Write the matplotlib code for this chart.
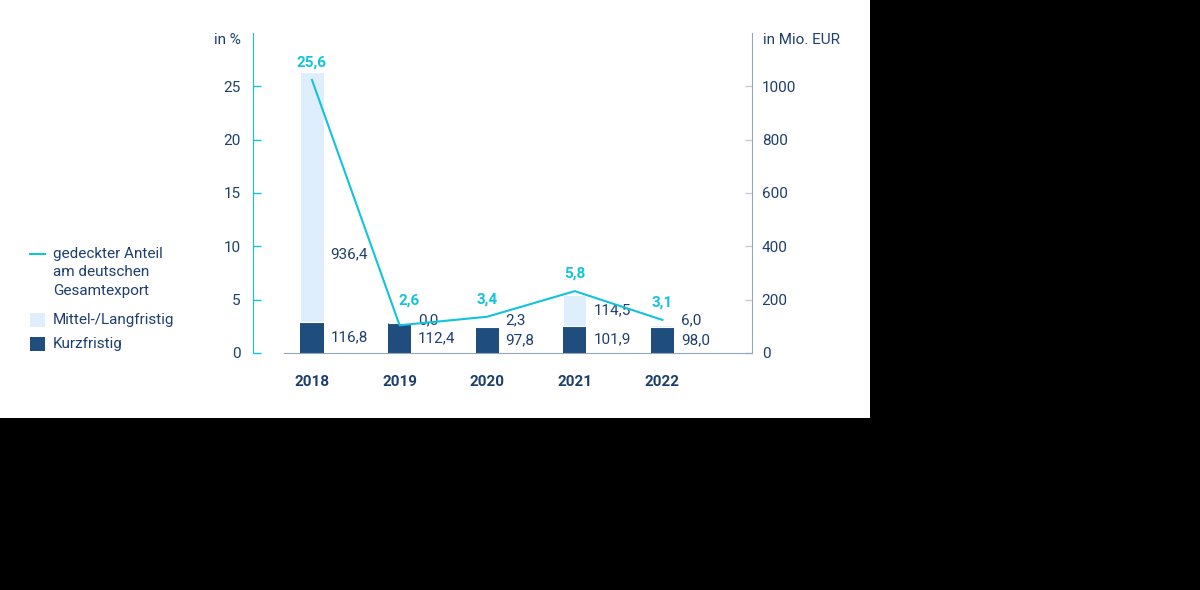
import numpy as np
import matplotlib.pyplot as plt
from matplotlib.lines import Line2D
from matplotlib.patches import Rectangle

plt.rcParams['font.family'] = ['Roboto', 'DejaVu Sans']

# data
years = ['2018', '2019', '2020', '2021', '2022']
kurz = [116.8, 112.4, 97.8, 101.9, 98.0]          # Mio. EUR
mittel = [936.4, 0.0, 2.3, 114.5, 6.0]            # Mio. EUR
anteil = [25.6, 2.6, 3.4, 5.8, 3.1]               # in %

navy = '#1f4e7e'
light = '#dfeefd'
cyan = '#12c3db'
text_c = '#1d3f6e'
grey_ax = '#93a6c0'
fs = 11

W, H = 1200, 590
fig = plt.figure(figsize=(12, 5.9), dpi=100, facecolor='black')
# white card like in the source
fig.add_artist(Rectangle((0, 1 - 418 / H), 870 / W, 418 / H, transform=fig.transFigure,
                         facecolor='white', edgecolor='none', zorder=-10))

ax = fig.add_axes([253 / W, 1 - 353 / H, (752 - 253) / W, 320 / H])
ax.set_facecolor('none')
ax2 = ax.twinx()  # Mio. EUR axis (bars)

x = np.arange(len(years))
bw = 0.263

ax2.bar(x, kurz, bw, color=navy, zorder=2)
ax2.bar(x, mittel, bw, bottom=kurz, color=light, edgecolor='white', linewidth=0.8, zorder=2)
ax.plot(x, anteil, color=cyan, lw=1.5, zorder=3)
ax.set_zorder(ax2.get_zorder() + 1)
ax.patch.set_visible(False)

ax.set_xlim(-0.6735, 5.023)
ax.set_ylim(0, 30)
ax2.set_ylim(0, 1200)

# percent labels
for i, v in enumerate(anteil):
    dx = 7 if i == 1 else 0
    dy = 13 if i == 1 else 7.5
    ax.annotate(f'{v:.1f}'.replace('.', ','), (x[i], v), xytext=(dx, dy),
                textcoords='offset points', ha='center', va='bottom',
                color=cyan, fontsize=fs, fontweight='bold')

# value labels right of bars
for i in range(len(years)):
    xr = x[i] + bw / 2
    ax2.annotate(f'{kurz[i]:.1f}'.replace('.', ','), (xr, kurz[i] / 2), xytext=(5, 0),
                 textcoords='offset points', ha='left', va='center', color=text_c, fontsize=fs)
    ym = kurz[i] + mittel[i] / 2
    if mittel[i] > 500:
        ym = kurz[i] + mittel[i] * 0.27
    ym = max(ym, 121)
    ax2.annotate(f'{mittel[i]:.1f}'.replace('.', ','), (xr, ym), xytext=(5, 0),
                 textcoords='offset points', ha='left', va='center', color=text_c, fontsize=fs)

# axes styling
ax.spines['top'].set_visible(False)
ax2.spines['top'].set_visible(False)
ax.spines['right'].set_visible(False)
ax.spines['bottom'].set_visible(False)
ax2.spines['left'].set_visible(False)
ax.spines['left'].set_color(cyan)
ax2.spines['right'].set_color(grey_ax)
ax2.spines['bottom'].set_color(grey_ax)
ax2.spines['bottom'].set_bounds(-0.32, 5.023)

ax.set_yticks([0, 5, 10, 15, 20, 25])
ax.tick_params(axis='y', direction='in', length=6, width=1, color=cyan, pad=9,
               labelcolor=text_c, labelsize=fs)
ax2.set_yticks([0, 200, 400, 600, 800, 1000])
ax2.tick_params(axis='y', direction='in', length=5, width=1, color='#c3cedc', pad=7,
                labelcolor=text_c, labelsize=fs)
ax.set_xticks(x)
ax.set_xticklabels(years, fontweight='bold', color=text_c, fontsize=fs)
ax.tick_params(axis='x', length=0, pad=16)
ax2.tick_params(axis='x', length=0)

fig.text(241 / W, 1 - 40 / H, 'in %', ha='right', va='center', color=text_c, fontsize=fs)
fig.text(763 / W, 1 - 40 / H, 'in Mio. EUR', ha='left', va='center', color=text_c, fontsize=fs)

# legend drawn by hand
fig.add_artist(Line2D([30 / W, 45 / W], [1 - 254 / H] * 2, transform=fig.transFigure,
                      color=cyan, lw=1.5))
fig.text(53 / W, 1 - 254 / H, 'gedeckter Anteil', ha='left', va='center', color=text_c, fontsize=fs)
fig.text(53 / W, 1 - 272 / H, 'am deutschen', ha='left', va='center', color=text_c, fontsize=fs)
fig.text(53 / W, 1 - 291 / H, 'Gesamtexport', ha='left', va='center', color=text_c, fontsize=fs)
fig.add_artist(Rectangle((30 / W, 1 - 327 / H), 15 / W, 14 / H, transform=fig.transFigure,
                         facecolor=light, edgecolor='none'))
fig.text(53 / W, 1 - 320 / H, 'Mittel-/Langfristig', ha='left', va='center', color=text_c, fontsize=fs)
fig.add_artist(Rectangle((30 / W, 1 - 351 / H), 15 / W, 14 / H, transform=fig.transFigure,
                         facecolor=navy, edgecolor='none'))
fig.text(53 / W, 1 - 344 / H, 'Kurzfristig', ha='left', va='center', color=text_c, fontsize=fs)

fig.savefig('out.png', dpi=100, facecolor=fig.get_facecolor())
